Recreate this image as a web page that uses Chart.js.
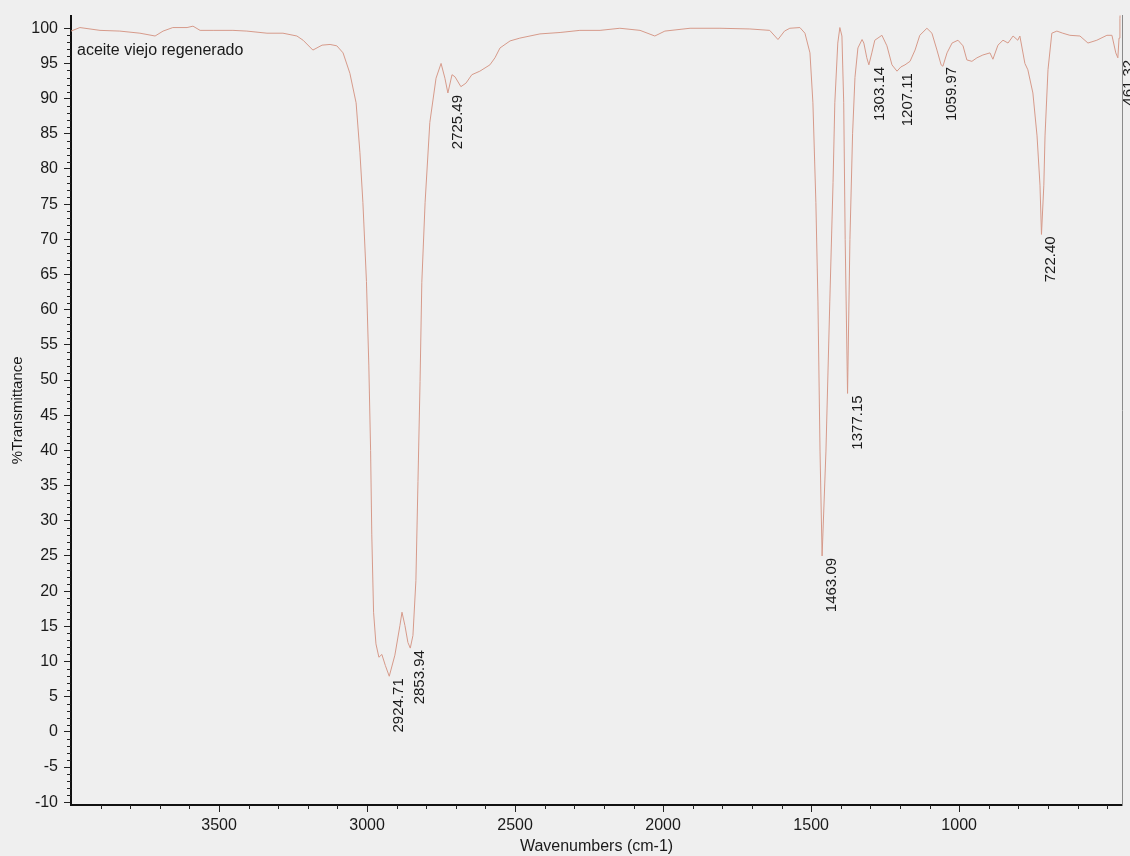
<!DOCTYPE html>
<html lang="es">
<head>
  <meta charset="UTF-8" />
  <title>aceite viejo regenerado - IR</title>
  <script src="https://cdn.jsdelivr.net/npm/chart.js@4"></script>
  <style>
    html, body { margin: 0; padding: 0; background: #efefef; }
    #wrap { width: 1130px; height: 856px; }
  </style>
</head>
<body>
  <div id="wrap"><canvas id="irChart" width="1130" height="856"></canvas></div>

  <script>
    // spectrum (cm-1 -> %T)
    const wavenumbers = [
      4000, 3970, 3902, 3835, 3767, 3716, 3689, 3656, 3608, 3588, 3564, 3520, 3453, 3406, 3338, 3284,
      3237, 3216, 3183, 3152, 3125, 3102, 3081, 3058, 3037, 3024, 3014, 3002, 2994, 2988, 2984, 2978,
      2970, 2960, 2950, 2938, 2925, 2906, 2889, 2882, 2872, 2862, 2854, 2845, 2835, 2828, 2821, 2815,
      2804, 2788, 2767, 2750, 2737, 2727, 2713, 2703, 2683, 2666, 2646, 2619, 2585, 2568, 2551, 2517,
      2484, 2416, 2348, 2281, 2213, 2146, 2078, 2028, 1994, 1909, 1808, 1707, 1640, 1612, 1590, 1572,
      1538, 1521, 1504, 1494, 1484, 1477, 1470, 1463, 1450, 1437, 1426, 1420, 1410, 1403, 1396, 1390,
      1385, 1377, 1369, 1360, 1352, 1342, 1328, 1322, 1312, 1305, 1295, 1285, 1261, 1244, 1227, 1210,
      1197, 1183, 1166, 1149, 1133, 1109, 1092, 1075, 1061, 1055, 1041, 1024, 1004, 987, 974, 957,
      940, 920, 896, 886, 869, 852, 835, 818, 802, 795, 778, 768, 751, 737, 727, 722,
      714, 710, 700, 687, 670, 650, 626, 592, 565, 535, 501, 484, 471, 464, 460, 457, 455
    ];
    const transmittance = [
      99.6, 100.1, 99.7, 99.6, 99.3, 98.9, 99.6, 100.1, 100.1, 100.3, 99.7, 99.7, 99.7, 99.6, 99.3, 99.3,
      98.9, 98.3, 96.9, 97.6, 97.7, 97.5, 96.5, 93.6, 89.4, 82.3, 75.2, 64.0, 52.0, 40.0, 28.0, 17.0,
      12.5, 10.6, 11.0, 9.4, 7.9, 10.9, 15.1, 17.0, 15.1, 12.7, 11.9, 13.7, 21.5, 35.6, 49.8, 63.9,
      75.2, 86.6, 92.9, 95.0, 92.9, 90.8, 93.4, 93.1, 91.7, 92.2, 93.4, 93.9, 94.8, 95.8, 97.2, 98.2,
      98.6, 99.2, 99.4, 99.7, 99.7, 100.0, 99.7, 98.9, 99.6, 100.0, 100.0, 99.9, 99.7, 98.4, 99.6, 100.0,
      100.1, 99.3, 96.5, 89.4, 75.2, 61.1, 39.9, 25.0, 39.9, 61.1, 78.1, 89.4, 97.9, 100.1, 98.9, 89.4,
      70.0, 48.1, 70.0, 85.0, 93.0, 97.2, 98.4, 97.9, 95.8, 94.8, 96.5, 98.3, 99.0, 97.5, 94.8, 93.9,
      94.5, 94.8, 95.3, 96.9, 99.0, 100.0, 99.3, 96.9, 94.8, 94.6, 96.5, 97.9, 98.3, 97.5, 95.5, 95.3,
      95.8, 96.2, 96.5, 95.6, 97.6, 98.3, 97.9, 98.9, 98.3, 98.9, 95.0, 94.1, 90.8, 84.7, 77.7, 70.7,
      77.7, 84.7, 94.1, 99.3, 99.6, 99.3, 99.0, 98.9, 97.9, 98.3, 99.0, 99.0, 96.5, 95.8, 98.6, 101.4, 103
    ];

    // labelled peaks
    const peakWavenumbers = [2924.71, 2853.94, 2725.49, 1463.09, 1377.15, 1303.14, 1207.11, 1059.97, 722.40, 461.32];
    const peakTransmittance = [7.9, 11.9, 90.8, 25.0, 48.1, 94.8, 93.9, 94.8, 70.7, 95.8];

    const xTickValues = [1000, 1500, 2000, 2500, 3000, 3500];
    const yTickValues = [-10, -5, 0, 5, 10, 15, 20, 25, 30, 35, 40, 45, 50, 55, 60, 65, 70, 75, 80, 85, 90, 95, 100];

    const sampleName = "aceite viejo regenerado";
    const FONT = '"Liberation Sans", Arial, sans-serif';

    const points = wavenumbers.map((w, i) => ({ x: w, y: transmittance[i] }));

    // minor ticks, peak labels and sample name
    const spectrumText = {
      id: 'spectrumText',
      afterDraw(chart) {
        const { ctx, chartArea, scales } = chart;
        const x = scales.x, y = scales.y;
        ctx.save();
        ctx.strokeStyle = '#222';
        ctx.lineWidth = 1;
        for (let v = -10; v <= 100; v++) {
          if (v % 5 === 0) continue;
          const py = Math.round(y.getPixelForValue(v)) + 0.5;
          ctx.beginPath();
          ctx.moveTo(chartArea.left - 4, py);
          ctx.lineTo(chartArea.left, py);
          ctx.stroke();
        }
        for (let v = 500; v < 4000; v += 100) {
          if (xTickValues.includes(v)) continue;
          const px = Math.round(x.getPixelForValue(v)) + 0.5;
          ctx.beginPath();
          ctx.moveTo(px, chartArea.bottom);
          ctx.lineTo(px, chartArea.bottom + 4);
          ctx.stroke();
        }

        ctx.fillStyle = '#1a1a1a';
        ctx.font = '15px ' + FONT;
        ctx.textAlign = 'right';
        ctx.textBaseline = 'middle';
        peakWavenumbers.forEach((w, i) => {
          const px = x.getPixelForValue(w) + 10;
          const py = y.getPixelForValue(peakTransmittance[i]) + 2;
          ctx.save();
          ctx.translate(px, py);
          ctx.rotate(-Math.PI / 2);
          ctx.fillText(w.toFixed(2), 0, 0);
          ctx.restore();
        });

        ctx.textAlign = 'left';
        ctx.font = '16px ' + FONT;
        ctx.fillText(sampleName, chartArea.left + 6, chartArea.top + 35);
        ctx.restore();
      }
    };

    new Chart(document.getElementById('irChart'), {
      type: 'line',
      data: {
        datasets: [{
          data: points,
          borderColor: '#d69a8a',
          borderWidth: 1,
          pointRadius: 0,
          tension: 0,
          fill: false
        }]
      },
      options: {
        responsive: false,
        animation: false,
        layout: { padding: { top: 12, right: 8, left: 0, bottom: 0 } },
        plugins: { legend: { display: false }, tooltip: { enabled: false } },
        scales: {
          x: {
            type: 'linear',
            reverse: true,
            min: 450,
            max: 4000,
            afterBuildTicks: s => { s.ticks = xTickValues.map(v => ({ value: v })); },
            afterFit: s => { s.height = 51; },
            grid: { drawOnChartArea: false, drawTicks: true, tickLength: 7, color: '#222' },
            border: { display: true, color: '#111', width: 2 },
            ticks: {
              color: '#1a1a1a', font: { size: 16, family: FONT }, padding: 4,
              maxRotation: 0, autoSkip: false, callback: v => String(v)
            },
            title: { display: true, text: 'Wavenumbers (cm-1)', color: '#1a1a1a', font: { size: 16, family: FONT }, padding: 0 }
          },
          y: {
            min: -10.4,
            max: 101.8,
            afterBuildTicks: s => { s.ticks = yTickValues.map(v => ({ value: v })); },
            afterFit: s => { s.width = 71; },
            grid: { drawOnChartArea: false, drawTicks: true, tickLength: 7, color: '#222' },
            border: { display: true, color: '#111', width: 2 },
            ticks: { color: '#1a1a1a', font: { size: 16, family: FONT }, padding: 6, callback: v => String(v) },
            title: { display: true, text: '%Transmittance', color: '#1a1a1a', font: { size: 15, family: FONT }, padding: { top: 9, bottom: 0 } }
          },
          y2: {
            position: 'right',
            afterFit: s => { s.width = 0; },
            grid: { drawOnChartArea: false, drawTicks: false },
            ticks: { display: false },
            border: { display: true, color: '#8a8a8a', width: 1 }
          }
        }
      },
      plugins: [spectrumText]
    });
  </script>
</body>
</html>
